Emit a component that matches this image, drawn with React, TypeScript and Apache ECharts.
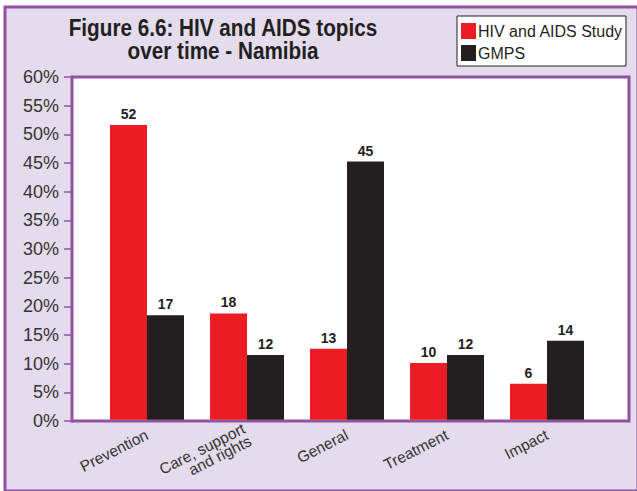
import { useEffect, useRef } from 'react';
import * as echarts from 'echarts';

const categories = ['Prevention', 'Care, support\nand rights', 'General', 'Treatment', 'Impact'];
const seriesNames = ['HIV and AIDS Study', 'GMPS'];
const hivStudy = [51.6, 18.6, 12.4, 9.9, 6.3];
const gmps = [18.3, 11.3, 45.2, 11.3, 13.8];
const hivLabels = ['52', '18', '13', '10', '6'];
const gmpsLabels = ['17', '12', '45', '12', '14'];
const titleText = 'Figure 6.6: HIV and AIDS topics\nover time - Namibia';
const yMin = 0;
const yMax = 60;
const yStep = 5;

const PURPLE = '#9152a2';
const GRID_LINE = '#9a5eaa';
const BG = '#e4dbed';
const RED = '#ec1c24';
const BLACK = '#231f20';

export default function App() {
  const ref = useRef<HTMLDivElement>(null);
  useEffect(() => {
    document.body.style.margin = '0';
    const chart = echarts.init(ref.current!, null, { renderer: 'svg' });
    const labelStyle = (labels: string[]) => ({
      show: true,
      position: 'top',
      distance: 4,
      formatter: (p: any) => labels[p.dataIndex],
      fontFamily: 'Liberation Sans, Arial, sans-serif',
      fontWeight: 'bold',
      fontSize: 14,
      color: BLACK,
      backgroundColor: '#ffffff',
      padding: [1, 2, 0, 2],
    });
    chart.setOption({
      animation: false,
      backgroundColor: 'transparent',
      graphic: [
        {
          type: 'rect',
          z: -10,
          shape: { x: 5, y: 7, width: 633, height: 484 },
          style: { fill: BG, stroke: PURPLE, lineWidth: 3 },
        },
        {
          type: 'text',
          x: 223,
          y: 17,
          scaleX: 0.9,
          z: 10,
          style: {
            text: titleText,
            align: 'center',
            verticalAlign: 'top',
            fontFamily: 'Liberation Sans, Arial, sans-serif',
            fontWeight: 'bold',
            fontSize: 23,
            lineHeight: 23,
            fill: BLACK,
          },
        },
      ],
      legend: {
        orient: 'vertical',
        left: 457,
        top: 16,
        data: seriesNames,
        icon: 'rect',
        itemWidth: 15,
        itemHeight: 16,
        itemGap: 6,
        padding: [7, 3, 5, 4],
        backgroundColor: '#ffffff',
        borderColor: BLACK,
        borderWidth: 1,
        borderRadius: 0,
        textStyle: {
          fontFamily: 'Liberation Sans, Arial, sans-serif',
          fontSize: 16,
          color: BLACK,
          padding: [0, 0, 0, -3],
        },
      },
      grid: [
        {
          left: 72,
          right: 8,
          top: 77,
          bottom: 70,
          show: true,
          backgroundColor: '#ffffff',
          borderColor: PURPLE,
          borderWidth: 3,
          z: 1,
        },
        { left: 97, right: 40, top: 77, bottom: 70 },
      ],
      xAxis: [
        { gridIndex: 0, type: 'value', min: 0, max: 1, show: false },
        {
          gridIndex: 1,
          type: 'category',
          data: categories,
          axisLine: { show: false },
          axisTick: { show: false },
          axisLabel: {
            rotate: 27,
            margin: 14,
            fontFamily: 'Liberation Sans, Arial, sans-serif',
            fontSize: 15.5,
            lineHeight: 14,
            color: '#333333',
            align: 'right',
          },
        },
      ],
      yAxis: [
        {
          gridIndex: 0,
          type: 'value',
          min: yMin,
          max: yMax,
          interval: yStep,
          axisLine: { show: true, lineStyle: { color: PURPLE, width: 3 } },
          axisTick: { show: true, length: 8, lineStyle: { color: PURPLE, width: 1.5 } },
          axisLabel: {
            formatter: '{value}%',
            margin: 13,
            fontFamily: 'Liberation Sans, Arial, sans-serif',
            fontSize: 18,
            color: '#333333',
          },
          splitLine: { show: true, lineStyle: { color: GRID_LINE, width: 1.5 } },
        },
        {
          gridIndex: 1,
          type: 'value',
          min: yMin,
          max: yMax,
          interval: yStep,
          show: false,
          splitLine: { show: false },
        },
      ],
      series: [
        {
          name: seriesNames[0],
          type: 'bar',
          xAxisIndex: 1,
          yAxisIndex: 1,
          data: hivStudy,
          barWidth: 37,
          barGap: '0%',
          itemStyle: { color: RED },
          label: labelStyle(hivLabels),
          z: 5,
        },
        {
          name: seriesNames[1],
          type: 'bar',
          xAxisIndex: 1,
          yAxisIndex: 1,
          data: gmps,
          barWidth: 37,
          barGap: '0%',
          itemStyle: { color: BLACK },
          label: labelStyle(gmpsLabels),
          z: 5,
        },
      ],
    });
    return () => chart.dispose();
  }, []);
  return <div ref={ref} style={{ width: 637, height: 491 }} />;
}
